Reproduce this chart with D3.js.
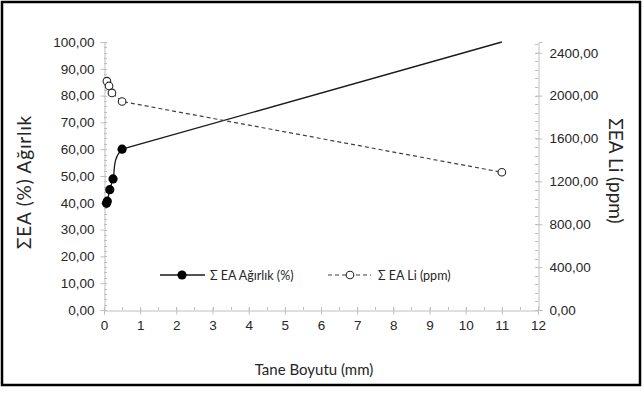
<!DOCTYPE html>
<html>
<head>
<meta charset="utf-8">
<script src="https://cdn.jsdelivr.net/npm/d3@7"></script>
<style>
    body { margin: 0; background: #fff; }
    svg text { fill: #262626; }
</style>
</head>
<body>
<svg id="chart" width="644" height="396"></svg>
<script>
// tane boyutu (mm) - agirlik serisi
var agirlikX = [0.07, 0.09, 0.16, 0.25, 0.5, 11];
var agirlikY = [39.8, 40.6, 44.9, 48.9, 60.0, 100];
// tane boyutu (mm) - Li serisi
var liX = [0.08, 0.14, 0.22, 0.5, 11];
var liY = [2135, 2090, 2025, 1945, 1285];

var xTicks = [0, 1, 2, 3, 4, 5, 6, 7, 8, 9, 10, 11, 12];
var leftTicks = [0, 10, 20, 30, 40, 50, 60, 70, 80, 90, 100];
var rightTicks = [0, 400, 800, 1200, 1600, 2000, 2400];

var svg = d3.select('#chart');
var plot = { left: 104, right: 538, top: 42, bottom: 310 };

var x = d3.scaleLinear().domain([0, 12]).range([plot.left, plot.right]);
var yL = d3.scaleLinear().domain([0, 100]).range([plot.bottom, plot.top]);
var yR = d3.scaleLinear().domain([0, 2500]).range([plot.bottom, plot.top]);

var fmt = function(v) { return d3.format('.2f')(v).replace('.', ','); };
var tickFont = '"Liberation Sans", Arial, sans-serif';
var titleFont = 'Lato, "Open Sans", sans-serif';
var axisColor = '#bfbfbf';

// frame
svg.append('rect')
    .attr('x', 2).attr('y', 2)
    .attr('width', 638).attr('height', 383)
    .attr('fill', 'none')
    .attr('stroke', '#000')
    .attr('stroke-width', 2.5);

// minor ticks
svg.append('g').selectAll('line').data(d3.range(0, 100.01, 2)).enter()
    .append('line')
    .attr('x1', plot.left).attr('x2', plot.left + 3)
    .attr('y1', function(d) { return Math.round(yL(d)) + 0.5; })
    .attr('y2', function(d) { return Math.round(yL(d)) + 0.5; })
    .attr('stroke', axisColor);
svg.append('g').selectAll('line').data(d3.range(0, 2500.01, 80)).enter()
    .append('line')
    .attr('x1', plot.right - 3).attr('x2', plot.right)
    .attr('y1', function(d) { return Math.round(yR(d)) + 0.5; })
    .attr('y2', function(d) { return Math.round(yR(d)) + 0.5; })
    .attr('stroke', axisColor);
svg.append('g').selectAll('line').data(d3.range(0, 12.01, 0.5)).enter()
    .append('line')
    .attr('x1', function(d) { return Math.round(x(d)) + 0.5; })
    .attr('x2', function(d) { return Math.round(x(d)) + 0.5; })
    .attr('y1', plot.bottom - 3).attr('y2', plot.bottom)
    .attr('stroke', axisColor);

// axes
var xAxis = svg.append('g')
    .attr('transform', 'translate(0,' + (plot.bottom + 0.5) + ')')
    .call(d3.axisBottom(x).tickValues(xTicks).tickSize(4).tickPadding(6).tickFormat(d3.format('d')));
var leftAxis = svg.append('g')
    .attr('transform', 'translate(' + (plot.left + 0.5) + ',0)')
    .call(d3.axisLeft(yL).tickValues(leftTicks).tickSize(4).tickPadding(6).tickFormat(fmt));
var rightAxis = svg.append('g')
    .attr('transform', 'translate(' + (plot.right + 0.5) + ',0)')
    .call(d3.axisRight(yR).tickValues(rightTicks).tickSize(4).tickPadding(7).tickFormat(fmt));

[xAxis, leftAxis, rightAxis].forEach(function(ax) {
    ax.select('.domain').attr('stroke', axisColor);
    ax.selectAll('.tick line').attr('stroke', axisColor);
    ax.selectAll('.tick text')
        .attr('font-family', tickFont)
        .attr('font-size', '13.5px')
        .style('fill', '#262626');
});
rightAxis.selectAll('.tick line').attr('x1', -3);
xAxis.selectAll('.tick line').attr('y1', -3);

// axis titles
svg.append('text')
    .attr('x', 314).attr('y', 375)
    .attr('text-anchor', 'middle')
    .attr('font-family', titleFont)
    .attr('font-size', '15px')
    .text('Tane Boyutu (mm)');
svg.append('text')
    .attr('transform', 'translate(31,182) rotate(-90)')
    .attr('text-anchor', 'middle')
    .attr('font-family', titleFont)
    .attr('font-size', '19px')
    .attr('letter-spacing', '0.8px')
    .text('ΣEA (%) Ağırlık');
svg.append('text')
    .attr('transform', 'translate(609,171) rotate(90)')
    .attr('text-anchor', 'middle')
    .attr('font-family', titleFont)
    .attr('font-size', '19px')
    .text('ΣEA Li (ppm)');

// series
var agirlik = agirlikX.map(function(v, i) { return [v, agirlikY[i]]; });
var li = liX.map(function(v, i) { return [v, liY[i]]; });

// smoothed through the close points, last long segment drawn straight
var cmds = [];
var rec = {
    moveTo: function(a, b) { cmds.push('M' + a + ',' + b); },
    lineTo: function(a, b) { cmds.push('L' + a + ',' + b); },
    bezierCurveTo: function(a, b, c, d, e, f) { cmds.push('C' + [a, b, c, d, e, f].join(',')); },
    closePath: function() { cmds.push('Z'); }
};
d3.line()
    .x(function(d) { return x(d[0]); })
    .y(function(d) { return yL(d[1]); })
    .curve(d3.curveCatmullRom.alpha(0.5))
    .context(rec)(agirlik);
var last = agirlik[agirlik.length - 1];
cmds[cmds.length - 1] = 'L' + x(last[0]) + ',' + yL(last[1]);

svg.append('path')
    .attr('fill', 'none')
    .attr('stroke', '#1a1a1a')
    .attr('stroke-width', 1.3)
    .attr('d', cmds.join(''));

svg.append('path')
    .datum(li)
    .attr('fill', 'none')
    .attr('stroke', '#404040')
    .attr('stroke-width', 1.2)
    .attr('stroke-dasharray', '4,3')
    .attr('d', d3.line()
        .x(function(d) { return x(d[0]); })
        .y(function(d) { return yR(d[1]); }));

// last point of agirlik series has no visible marker
svg.append('g').selectAll('circle').data(agirlik.slice(0, -1)).enter()
    .append('circle')
    .attr('cx', function(d) { return x(d[0]); })
    .attr('cy', function(d) { return yL(d[1]); })
    .attr('r', 4.6)
    .attr('fill', '#000');

svg.append('g').selectAll('circle').data(li).enter()
    .append('circle')
    .attr('cx', function(d) { return x(d[0]); })
    .attr('cy', function(d) { return yR(d[1]); })
    .attr('r', 3.8)
    .attr('fill', '#fff')
    .attr('stroke', '#262626')
    .attr('stroke-width', 1.1);

// legend
var legY = 275;
svg.append('line')
    .attr('x1', 160).attr('x2', 205)
    .attr('y1', legY).attr('y2', legY)
    .attr('stroke', '#1a1a1a').attr('stroke-width', 1.3);
svg.append('circle')
    .attr('cx', 182).attr('cy', legY).attr('r', 4.6).attr('fill', '#000');
svg.append('text')
    .attr('x', 210).attr('y', legY + 4.5)
    .attr('font-family', titleFont)
    .attr('font-size', '12.5px')
    .text('Σ EA Ağırlık (%)');
svg.append('line')
    .attr('x1', 328).attr('x2', 371)
    .attr('y1', legY).attr('y2', legY)
    .attr('stroke', '#404040').attr('stroke-width', 1.2)
    .attr('stroke-dasharray', '4,3');
svg.append('circle')
    .attr('cx', 350).attr('cy', legY).attr('r', 3.8)
    .attr('fill', '#fff').attr('stroke', '#262626').attr('stroke-width', 1.1);
svg.append('text')
    .attr('x', 378).attr('y', legY + 4.5)
    .attr('font-family', titleFont)
    .attr('font-size', '12.5px')
    .text('Σ EA Li (ppm)');
</script>
</body>
</html>
